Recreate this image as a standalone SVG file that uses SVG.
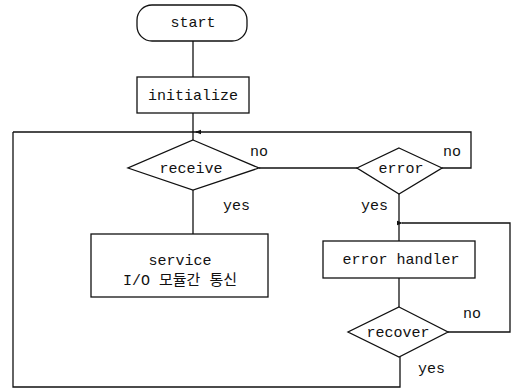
<svg xmlns="http://www.w3.org/2000/svg" width="513" height="388" viewBox="0 0 513 388">
  <defs>
    <marker id="arrow" viewBox="0 0 6 6" refX="1" refY="3" markerWidth="6" markerHeight="6" markerUnits="userSpaceOnUse" orient="auto">
      <path d="M6,0.8 L0,3 L6,5.2 Z" fill="#111"/>
    </marker>
  </defs>
  <style>
    .shape { fill: #fff; stroke: #111; stroke-width: 1.3; }
    .wire { fill: none; stroke: #111; stroke-width: 1.3; }
    text { font-family: "Liberation Mono", "Noto Sans CJK KR", monospace; font-size: 15px; fill: #111; text-anchor: middle; dominant-baseline: central; }
    .lbl { text-anchor: start; }
  </style>
  <rect width="513" height="388" fill="#fff"/>

  <!-- connectors -->
  <g id="connectors">
    <line class="wire" x1="193" y1="41" x2="193" y2="77"/>
    <line class="wire" x1="193" y1="113" x2="193" y2="140"/>
    <!-- main loop return path -->
    <path class="wire" d="M13,132 L471,132 L471,168 L442,168"/>
    <path class="wire" d="M400,357 L400,387 L13,387 L13,132"/>
    <line class="wire" x1="196" y1="132" x2="200" y2="132" marker-start="url(#arrow)"/>
    <!-- receive no -> error -->
    <line class="wire" x1="259" y1="168" x2="357" y2="168"/>
    <!-- receive yes -> service -->
    <line class="wire" x1="193" y1="190" x2="193" y2="234"/>
    <!-- error yes -> handler -->
    <line class="wire" x1="399" y1="194" x2="399" y2="241"/>
    <!-- handler -> recover -->
    <line class="wire" x1="399" y1="278" x2="399" y2="307"/>
    <!-- recover no -> back to handler -->
    <path class="wire" d="M448,332 L510,332 L510,223 L402,223" marker-end="url(#arrow)"/>
    <text class="lbl" x="250" y="152">no</text>
    <text class="lbl" x="443" y="152">no</text>
    <text class="lbl" x="223" y="206">yes</text>
    <text class="lbl" x="361" y="206">yes</text>
    <text class="lbl" x="463" y="314">no</text>
    <text class="lbl" x="418" y="369">yes</text>
  </g>

  <g id="start">
    <rect class="shape" x="137" y="5" width="110" height="36" rx="15" ry="15"/>
    <text x="193" y="23">start</text>
  </g>

  <g id="initialize">
    <rect class="shape" x="137" y="77" width="112" height="36"/>
    <text x="193" y="96">initialize</text>
  </g>

  <g id="receive">
    <polygon class="shape" points="193,140 259,168 193,190 128,168"/>
    <text x="191" y="169">receive</text>
  </g>

  <g id="error">
    <polygon class="shape" points="399,148 442,168 399,194 357,168"/>
    <text x="401" y="169">error</text>
  </g>

  <g id="service">
    <rect class="shape" x="91" y="234" width="177" height="63"/>
    <text x="180" y="261">service</text>
    <text x="180" y="281">I/O 모듈간 통신</text>
  </g>

  <g id="error-handler">
    <rect class="shape" x="323" y="241" width="152" height="37"/>
    <text x="401" y="260">error handler</text>
  </g>

  <g id="recover">
    <polygon class="shape" points="399,307 448,332 399,357 348,332"/>
    <text x="398" y="333">recover</text>
  </g>
</svg>
